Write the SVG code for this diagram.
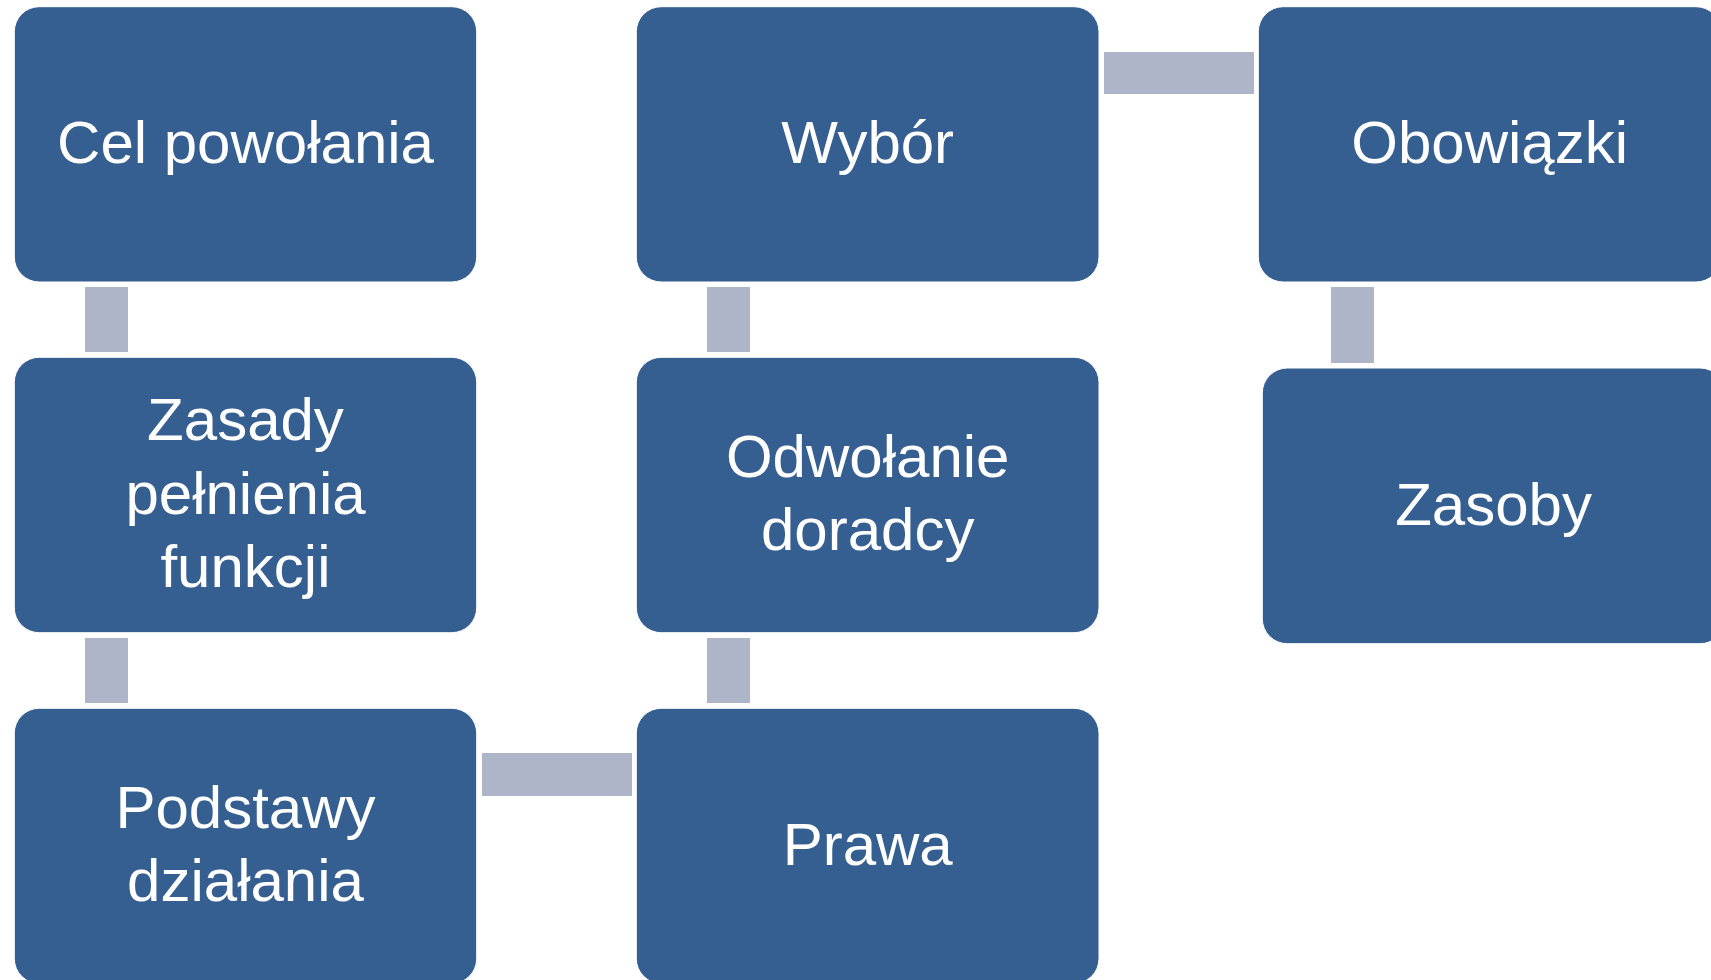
<svg xmlns="http://www.w3.org/2000/svg" width="1711" height="980" viewBox="0 0 1711 980">
<style>
.box{fill:#365F91;stroke:#ffffff;stroke-width:1}
.con{fill:#AFB5C8}
.lbl{font-family:"Liberation Sans",Arial,sans-serif;font-size:60px;fill:#ffffff;text-anchor:middle}
</style>
<rect width="1711" height="980" fill="#ffffff"/>
<g id="connectors">
<rect class="con" x="85" y="287" width="43" height="65"/>
<rect class="con" x="85" y="638" width="43" height="65"/>
<rect class="con" x="707" y="287" width="43" height="65"/>
<rect class="con" x="707" y="638" width="43" height="65"/>
<rect class="con" x="1104" y="52" width="150" height="42"/>
<rect class="con" x="482" y="753" width="150" height="43"/>
<rect class="con" x="1331" y="287" width="43" height="76"/>
</g>
<g id="cel">
<rect class="box" x="14.3" y="6.7" width="462.4" height="275.3" rx="25" ry="25"/>
<text class="lbl" x="245.5" y="163.3">Cel powołania</text>
</g>
<g id="zasady">
<rect class="box" x="14.3" y="357.3" width="462.4" height="275.4" rx="25" ry="25"/>
<text class="lbl" x="245.5" y="440">Zasady</text>
<text class="lbl" x="245.5" y="514">pełnienia</text>
<text class="lbl" x="245.5" y="587">funkcji</text>
</g>
<g id="podstawy">
<rect class="box" x="14.3" y="708.3" width="462.4" height="275.3" rx="25" ry="25"/>
<text class="lbl" x="245.5" y="828.3">Podstawy</text>
<text class="lbl" x="245.5" y="901">działania</text>
</g>
<g id="wybor">
<rect class="box" x="636.3" y="6.7" width="462.7" height="275.3" rx="25" ry="25"/>
<text class="lbl" x="867.7" y="163.3">Wybór</text>
</g>
<g id="odwolanie">
<rect class="box" x="636.3" y="357.3" width="462.7" height="275.4" rx="25" ry="25"/>
<text class="lbl" x="867.7" y="476.7">Odwołanie</text>
<text class="lbl" x="867.7" y="550">doradcy</text>
</g>
<g id="prawa">
<rect class="box" x="636.3" y="708.3" width="462.7" height="275.3" rx="25" ry="25"/>
<text class="lbl" x="867.7" y="865">Prawa</text>
</g>
<g id="obowiazki">
<rect class="box" x="1258.3" y="6.7" width="462.7" height="275.3" rx="25" ry="25"/>
<text class="lbl" x="1489.7" y="163.3">Obowiązki</text>
</g>
<g id="zasoby">
<rect class="box" x="1262.3" y="368" width="462.7" height="275.7" rx="25" ry="25"/>
<text class="lbl" x="1493.6" y="525">Zasoby</text>
</g>
</svg>
